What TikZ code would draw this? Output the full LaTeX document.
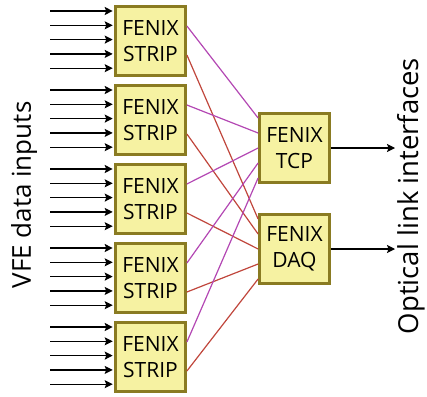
\documentclass[tikz,border=0pt]{standalone}
\usepackage{fontspec}
\setmainfont{Open Sans}
\usetikzlibrary{arrows.meta}
\definecolor{boxfill}{HTML}{F6F2A2}
\definecolor{boxline}{HTML}{8A7B22}
\definecolor{magline}{HTML}{B347B3}
\definecolor{redline}{HTML}{C0463C}
\tikzset{
  fbox/.style={draw=boxline, fill=boxfill, line width=2.8pt, minimum width=70pt, minimum height=69pt,
    inner sep=0pt, align=center, font=\fontsize{21}{26}\selectfont},
  inarrow/.style={-{Stealth[length=8pt,width=8pt,inset=1.5pt]}, line width=1.2pt},
  outarrow/.style={-{Stealth[length=8pt,width=8pt,inset=1.5pt]}, line width=1.2pt},
  magconn/.style={magline, line width=1.2pt},
  redconn/.style={redline, line width=1.2pt},
}
\begin{document}
\begin{tikzpicture}[x=1pt,y=-1pt]
\useasboundingbox (0,0) rectangle (427,396);
% strip boxes
\foreach \i/\t in {1/5,2/84,3/163,4/242,5/321}{
  \node[fbox] (s\i) at (150.5,\t+36) {FENIX\\STRIP};
  \foreach \k in {0,...,4}{
    \coordinate (in\i\k) at (50,\t+6+\k*14.3);
    \draw[inarrow] (in\i\k) -- ([xshift=-1.4pt]in\i\k -| s\i.west);
  }
}
\node[fbox] (tcp) at (294.5,148) {FENIX\\TCP};
\node[fbox] (daq) at (294.5,249) {FENIX\\DAQ};
% connectors
\foreach \i in {1,...,5}{
  \draw[magconn] ([yshift=15pt]s\i.east) -- ([yshift={-(\i-3)*15pt}]tcp.west);
  \draw[redconn] ([yshift=-14pt]s\i.east) -- ([yshift={-(\i-3)*15pt}]daq.west);
}
\coordinate (o1) at (395,148);
\coordinate (o2) at (395,249);
\draw[outarrow] (tcp.east) -- (o1);
\draw[outarrow] (daq.east) -- (o2);
\node[rotate=90, font=\fontsize{26}{30}\selectfont] (lin) at (24,195) {VFE data inputs};
\node[rotate=90, font=\fontsize{27.5}{30}\selectfont] (lout) at (411,196) {Optical link interfaces};
\end{tikzpicture}
\end{document}
